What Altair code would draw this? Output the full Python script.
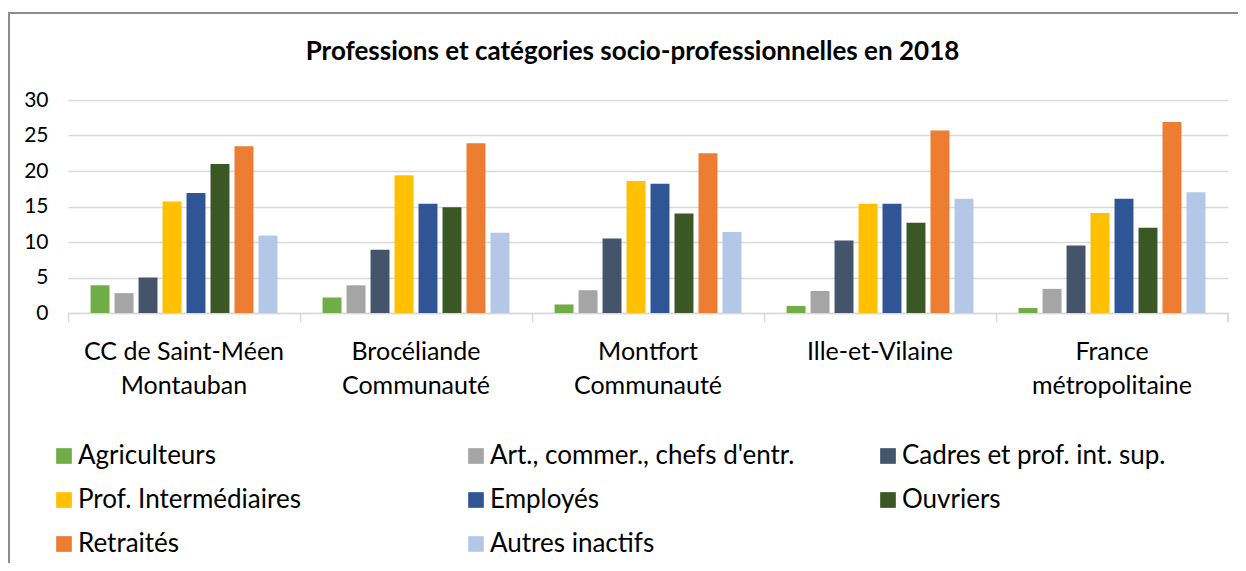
import altair as alt
import pandas as pd

categories = ["CC de Saint-Méen|Montauban", "Brocéliande|Communauté", "Montfort|Communauté",
              "Ille-et-Vilaine", "France|métropolitaine"]
series = ["Agriculteurs", "Art., commer., chefs d'entr.", "Cadres et prof. int. sup.",
          "Prof. Intermédiaires", "Employés", "Ouvriers", "Retraités", "Autres inactifs"]
colors = ["#70AD47", "#A5A5A5", "#44546A", "#FFC000", "#2F5597", "#3A5724", "#ED7D31", "#B4C7E7"]

agriculteurs = [3.9, 2.2, 1.2, 1.0, 0.7]
artisans = [2.8, 3.9, 3.2, 3.1, 3.4]
cadres = [5.0, 8.9, 10.5, 10.2, 9.5]
prof_inter = [15.7, 19.4, 18.6, 15.4, 14.1]
employes = [16.9, 15.4, 18.2, 15.4, 16.1]
ouvriers = [21.0, 14.9, 14.0, 12.7, 12.0]
retraites = [23.5, 23.9, 22.5, 25.7, 26.9]
autres = [10.9, 11.3, 11.4, 16.1, 17.0]

values = [agriculteurs, artisans, cadres, prof_inter, employes, ouvriers, retraites, autres]
rows = []
for s, vals in zip(series, values):
    for c, v in zip(categories, vals):
        rows.append({"cat": c, "serie": s, "val": v})
df = pd.DataFrame(rows)

FONT = "Lato"
W, H = 1160, 213

bars = alt.Chart(df).mark_bar().encode(
    x=alt.X("cat:N", sort=categories, title=None,
            scale=alt.Scale(paddingInner=0, paddingOuter=0),
            axis=alt.Axis(labelAngle=0, bandPosition=0, labelExpr="split(datum.label, '|')",
                          labelFontSize=25, labelColor="#000000", labelFont=FONT,
                          labelLineHeight=34, labelPadding=17, tickSize=9,
                          tickColor="#d9d9d9", domainColor="#d9d9d9", tickWidth=1.5,
                          domainWidth=1.5, grid=False, labelLimit=400)),
    xOffset=alt.XOffset("serie:N", sort=series,
                        scale=alt.Scale(paddingInner=0.21, paddingOuter=0.94)),
    y=alt.Y("val:Q", title=None, scale=alt.Scale(domain=[0, 30], nice=False),
            axis=alt.Axis(values=[0, 5, 10, 15, 20, 25, 30], ticks=False, domain=False,
                          gridColor="#d9d9d9", gridWidth=1.5, labelFontSize=21,
                          labelColor="#000000", labelFont=FONT, labelPadding=20)),
    color=alt.Color("serie:N", sort=series,
                    scale=alt.Scale(domain=series, range=colors),
                    legend=alt.Legend(title=None, orient="none", legendX=-17, legendY=343,
                                      columns=3, direction="horizontal", gridAlign="all",
                                      columnPadding=80, rowPadding=18, symbolType="square",
                                      symbolSize=246, symbolStrokeWidth=0, labelFontSize=26,
                                      labelFont=FONT, labelColor="#000000", labelOffset=1,
                                      labelLimit=600, symbolOpacity=1)),
)

last_tick = alt.Chart(df).mark_rule(color="#d9d9d9", strokeWidth=1.5).encode(
    x=alt.value(W), y=alt.value(H), y2=alt.value(H + 9)
)

border = alt.Chart(df).mark_rect(fill=None, stroke="#8c8c8c", strokeWidth=1.5).encode(
    x=alt.value(-59), y=alt.value(-87), x2=alt.value(W + 200), y2=alt.value(H + 400)
)

chart = alt.layer(border, bars, last_tick).properties(
    width=W, height=H,
    title=alt.Title("Professions et catégories socio-professionnelles en 2018",
                    fontSize=26, font=FONT, fontWeight="bold", color="#000000",
                    anchor="middle", dx=-15.5, offset=-74, baseline="alphabetic"),
    autosize=alt.AutoSizeParams(type="none"),
    padding={"left": 60, "top": 92, "right": 10, "bottom": 250},
).configure_view(stroke=None)

chart.save("out.html", embed_options={"renderer": "svg", "actions": False})
